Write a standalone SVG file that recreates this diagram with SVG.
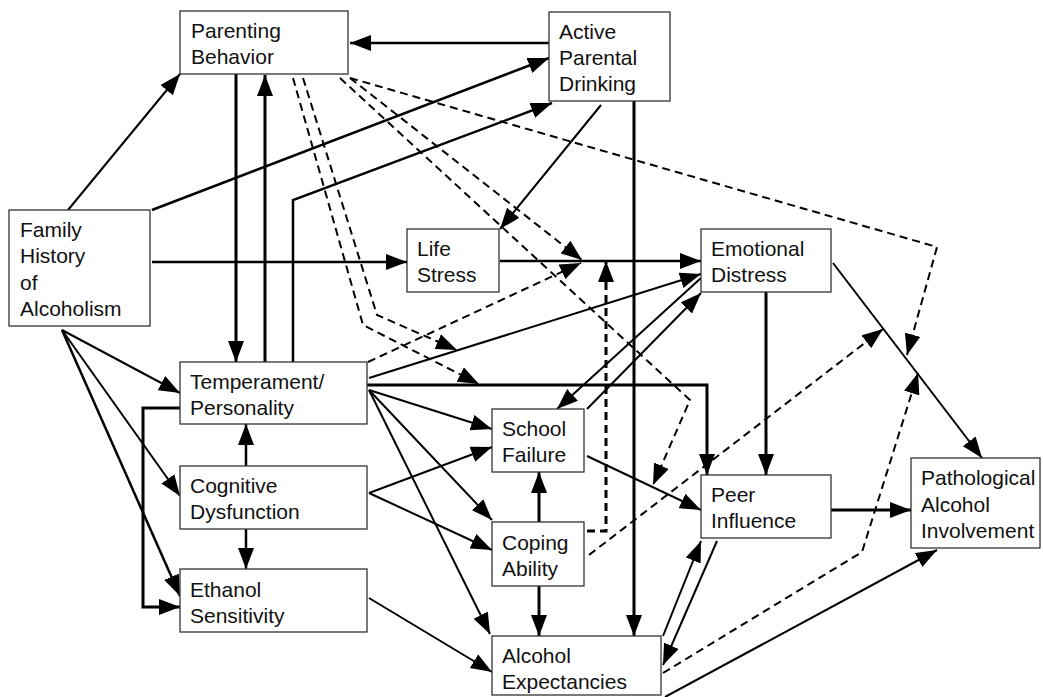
<svg xmlns="http://www.w3.org/2000/svg" width="1043" height="697" viewBox="0 0 1043 697">
  <style>
    .node rect { fill: #fff; stroke: #333; stroke-width: 1.3; }
    .node text { font-family: "Liberation Sans", Arial, sans-serif; font-size: 21px; fill: #111; }
    .c path { fill: none; stroke: #000; marker-end: url(#ah); }
    .c .t { stroke-width: 2; }
    .c .m { stroke-width: 2.5; }
    .c .k { stroke-width: 3; }
    .c .d { stroke-width: 2; stroke-dasharray: 8 5; }
    .c .dk { stroke-width: 3; stroke-dasharray: 8 5; }
  </style>
  <defs>
    <!-- filled triangular arrowhead, fixed size regardless of stroke width -->
    <marker id="ah" markerUnits="userSpaceOnUse" markerWidth="21" markerHeight="16" refX="21" refY="8" orient="auto">
      <path d="M0,0 L21,8 L0,16 z" fill="#000"/>
    </marker>
  </defs>
  <rect width="1043" height="697" fill="#fff"/>

  <g id="connectors" class="c">
    <!-- solid paths -->
    <path class="t" d="M68,210 L180,74"/>
    <path class="m" d="M152,210 L549,58"/>
    <path class="m" d="M152,262 L407,262"/>
    <path class="t" d="M62,330 L180,393"/>
    <path class="t" d="M62,330 L180,496"/>
    <path class="m" d="M62,330 L180,596"/>
    <path class="k" d="M236,74 L236,362"/>
    <path class="k" d="M265,362 L265,75"/>
    <path class="m" d="M293,362 L293,200 L552,103"/>
    <path class="m" d="M549,43 L350,43"/>
    <path class="t" d="M601,105 L500,229"/>
    <path class="k" d="M634,101 L634,636"/>
    <path class="m" d="M500,261 L701,261"/>
    <path class="t" d="M369,378 L701,274"/>
    <path class="t" d="M701,278 L557,409"/>
    <path class="t" d="M587,409 L701,293"/>
    <path class="k" d="M766,292 L766,475"/>
    <path class="t" d="M833,263 L982,458"/>
    <path class="k" d="M367,385 L707,385 L707,475"/>
    <path class="t" d="M369,390 L492,429"/>
    <path class="t" d="M369,390 L492,520"/>
    <path class="t" d="M369,390 L490,634"/>
    <path class="k" d="M180,408 L143,408 L143,607 L180,607"/>
    <path class="m" d="M246,466 L246,424"/>
    <path class="m" d="M246,529 L246,569"/>
    <path class="t" d="M369,493 L492,447"/>
    <path class="t" d="M369,493 L492,550"/>
    <path class="t" d="M369,598 L492,672"/>
    <path class="k" d="M539,522 L539,472"/>
    <path class="k" d="M539,586 L539,636"/>
    <path class="t" d="M587,456 L701,510"/>
    <path class="k" d="M831,510 L911,510"/>
    <path class="t" d="M663,636 L701,541"/>
    <path class="t" d="M717,541 L663,665"/>
    <path class="t" d="M665,697 L937,550"/>
    <!-- dashed paths -->
    <path class="d" d="M293,78 L363,325 L479,384"/>
    <path class="d" d="M303,78 L377,315 L457,350"/>
    <path class="d" d="M340,78 L690,400 L653,485"/>
    <path class="d" d="M350,78 L582,260"/>
    <path class="d" d="M350,78 L937,247 L907,355"/>
    <path class="d" d="M368,362 L581,263"/>
    <path class="dk" d="M587,531 L606,531 L606,261"/>
    <path class="d" d="M589,555 L883,329"/>
    <path class="d" d="M663,673 L862,552 L918,373"/>
  </g>

  <g id="parenting-behavior" class="node">
    <rect x="180" y="11" width="168" height="63"/>
    <text x="191" y="38">Parenting</text>
    <text x="191" y="64">Behavior</text>
  </g>
  <g id="active-parental-drinking" class="node">
    <rect x="549" y="12" width="121" height="89"/>
    <text x="559" y="39">Active</text>
    <text x="559" y="65">Parental</text>
    <text x="559" y="91">Drinking</text>
  </g>
  <g id="family-history" class="node">
    <rect x="9" y="210" width="141" height="116"/>
    <text x="20" y="237">Family</text>
    <text x="20" y="263">History</text>
    <text x="20" y="290">of</text>
    <text x="20" y="316">Alcoholism</text>
  </g>
  <g id="life-stress" class="node">
    <rect x="407" y="229" width="92" height="63"/>
    <text x="417" y="256">Life</text>
    <text x="417" y="282">Stress</text>
  </g>
  <g id="emotional-distress" class="node">
    <rect x="701" y="229" width="130" height="63"/>
    <text x="711" y="256">Emotional</text>
    <text x="711" y="282">Distress</text>
  </g>
  <g id="temperament-personality" class="node">
    <rect x="180" y="362" width="187" height="62"/>
    <text x="190" y="389">Temperament/</text>
    <text x="190" y="415">Personality</text>
  </g>
  <g id="cognitive-dysfunction" class="node">
    <rect x="180" y="466" width="187" height="63"/>
    <text x="190" y="493">Cognitive</text>
    <text x="190" y="519">Dysfunction</text>
  </g>
  <g id="ethanol-sensitivity" class="node">
    <rect x="180" y="569" width="187" height="63"/>
    <text x="190" y="597">Ethanol</text>
    <text x="190" y="623">Sensitivity</text>
  </g>
  <g id="school-failure" class="node">
    <rect x="492" y="409" width="92" height="63"/>
    <text x="502" y="436">School</text>
    <text x="502" y="462">Failure</text>
  </g>
  <g id="coping-ability" class="node">
    <rect x="492" y="522" width="92" height="64"/>
    <text x="502" y="550">Coping</text>
    <text x="502" y="576">Ability</text>
  </g>
  <g id="alcohol-expectancies" class="node">
    <rect x="492" y="636" width="169" height="59"/>
    <text x="502" y="663">Alcohol</text>
    <text x="502" y="689">Expectancies</text>
  </g>
  <g id="peer-influence" class="node">
    <rect x="701" y="475" width="130" height="63"/>
    <text x="711" y="502">Peer</text>
    <text x="711" y="528">Influence</text>
  </g>
  <g id="pathological-alcohol-involvement" class="node">
    <rect x="911" y="458" width="129" height="90"/>
    <text x="921" y="485">Pathological</text>
    <text x="921" y="512">Alcohol</text>
    <text x="921" y="538">Involvement</text>
  </g>
</svg>
